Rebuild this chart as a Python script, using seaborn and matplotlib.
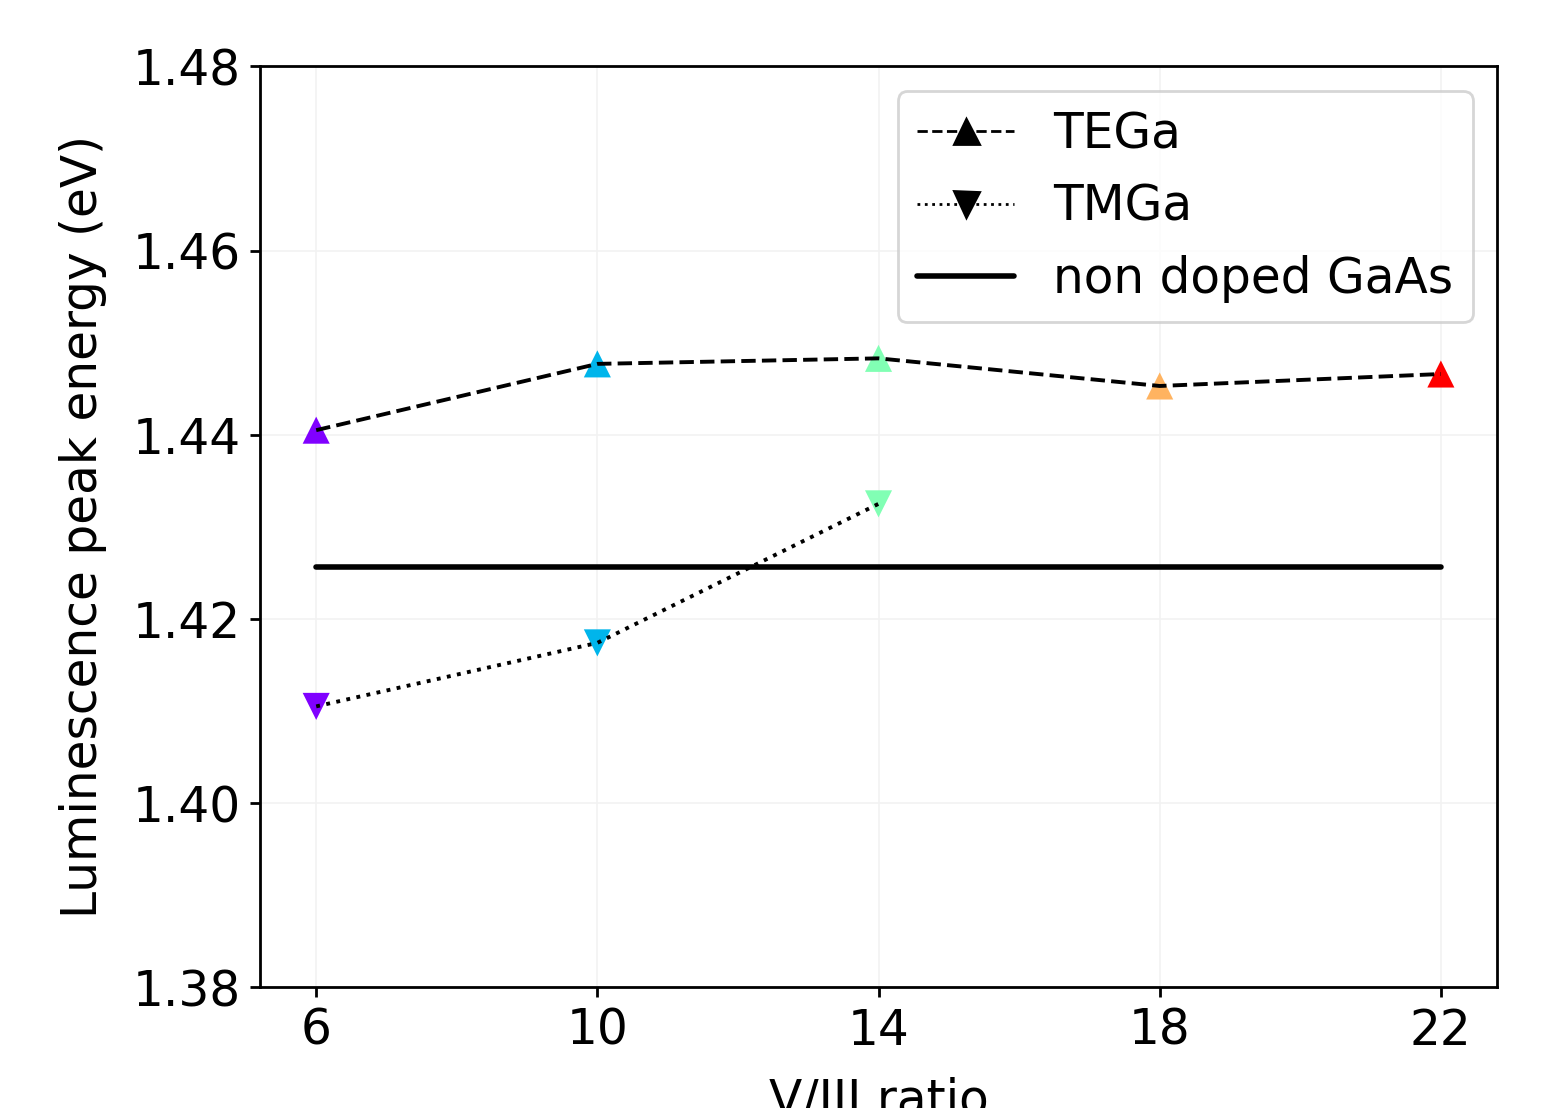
import numpy as np
import pandas as pd
import matplotlib
matplotlib.use("Agg")
import matplotlib.pyplot as plt
from matplotlib.lines import Line2D
import seaborn as sns

# data
ratio_tega = [6, 10, 14, 18, 22]
energy_tega = [1.4405, 1.4477, 1.4483, 1.4453, 1.4466]
ratio_tmga = [6, 10, 14]
energy_tmga = [1.4105, 1.4174, 1.4325]
ratio_ref = [6, 22]
energy_ref = [1.4256, 1.4256]

xticks = [6, 10, 14, 18, 22]
yticks = [1.38, 1.40, 1.42, 1.44, 1.46, 1.48]

sns.set_style("ticks")
plt.rcParams['font.family'] = ['DejaVu Sans']
plt.rcParams['font.size'] = 17.5
plt.rcParams['text.color'] = 'k'
plt.rcParams['axes.labelcolor'] = 'k'

# colour per V/III ratio (rainbow)
cols = plt.cm.rainbow(np.linspace(0, 1, len(ratio_tega)))
pal = {r: cols[i] for i, r in enumerate(ratio_tega)}

df_te = pd.DataFrame({'ratio': ratio_tega, 'E': energy_tega})
df_tm = pd.DataFrame({'ratio': ratio_tmga, 'E': energy_tmga})
df_ref = pd.DataFrame({'ratio': ratio_ref, 'E': energy_ref})

fig = plt.figure(figsize=(7.83, 5.54), dpi=200)
ax = fig.add_axes([0.166, 0.109, 0.790, 0.831])

sns.scatterplot(data=df_te, x='ratio', y='E', hue='ratio', palette=pal, marker='^',
                s=95, linewidth=0, legend=False, ax=ax, zorder=2)
sns.scatterplot(data=df_tm, x='ratio', y='E', hue='ratio', palette=pal, marker='v',
                s=95, linewidth=0, legend=False, ax=ax, zorder=2)
sns.lineplot(data=df_te, x='ratio', y='E', color='k', linestyle='--', lw=1.4, ax=ax, zorder=3)
sns.lineplot(data=df_tm, x='ratio', y='E', color='k', linestyle=':', lw=1.4, ax=ax, zorder=3)
sns.lineplot(data=df_ref, x='ratio', y='E', color='k', linestyle='-', lw=2, ax=ax, zorder=3)

ax.set_ylim(1.38, 1.48)
ax.set_yticks(yticks)
ax.set_xticks(xticks)
ax.set_xlim(5.2, 22.8)
ax.grid(True, color='#f2f2f2', linewidth=0.6)
for s in ax.spines.values():
    s.set_linewidth(1.0)
    s.set_color('k')
ax.tick_params(colors='k', labelsize=17.5, width=1.0, length=3.5)

ax.set_xlabel("V/III ratio", fontsize=17.5, labelpad=8)
ax.set_ylabel("Luminescence peak energy (eV)", fontsize=17.5, labelpad=9)

handles = [
    Line2D([], [], color='k', linestyle='--', marker='^', markersize=9, lw=1),
    Line2D([], [], color='k', linestyle=':', marker='v', markersize=9, lw=1),
    Line2D([], [], color='k', linestyle='-', lw=2),
]
ax.legend(handles, ["TEGa", "TMGa", "non doped GaAs"], loc='upper right', fontsize=17.5)

fig.savefig("out.png", dpi=200)
